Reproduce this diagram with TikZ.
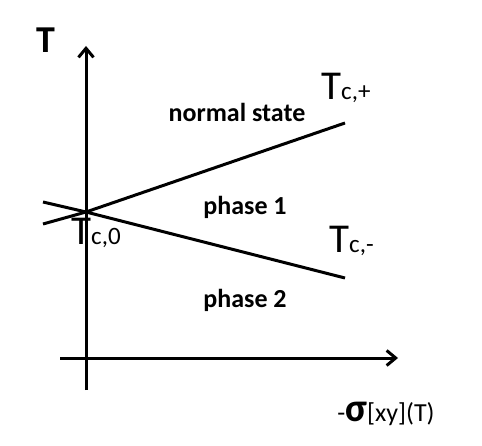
\documentclass[tikz,border=0pt]{standalone}
\usepackage{fontspec}
\setmainfont{Carlito}
\usetikzlibrary{arrows.meta}

\begin{document}
\begin{tikzpicture}[x=1pt,y=-1pt,
    axis line/.style={line width=3pt, -{Straight Barb[length=9pt,width=15pt,line width=3pt]}},
    phase line/.style={line width=3pt},
    region label/.style={font=\fontsize{26}{30}\selectfont\bfseries, inner sep=0pt},
    crit label/.style={anchor=base west, inner sep=0pt},
    ]
  \useasboundingbox (0,0) rectangle (482,446);
  \def\Tsub#1{{\fontsize{41}{44}\selectfont T}{\fontsize{25}{27}\selectfont #1}}

  % axes
  \coordinate (ybot) at (86,390);
  \coordinate (ytop) at (86,46);
  \coordinate (xleft) at (60,358);
  \coordinate (xright) at (398,358);
  \draw[axis line] (ybot) -- (ytop);
  \draw[axis line] (xleft) -- (xright);

  \node[font=\fontsize{38}{40}\selectfont\bfseries, inner sep=0pt] (tlabel) at (46,40) {T};
  \node[inner sep=0pt, anchor=base] (xlabel) at (386,421)
    {\fontsize{26}{28}\selectfont -{\fontsize{40}{42}\selectfont\bfseries σ}[xy](T)};

  % critical lines
  \coordinate (c0) at (86,212);
  \coordinate (upleft) at (43,224);
  \coordinate (upright) at (345,123);
  \coordinate (lowleft) at (43,202);
  \coordinate (lowright) at (345,278);
  \draw[phase line] (upleft) -- (c0) -- (upright);
  \draw[phase line] (lowleft) -- (c0) -- (lowright);

  \node[crit label] (tcplus) at (321,100) {\Tsub{c,+}};
  \node[crit label] (tczero) at (71,245) {\Tsub{c,0}};
  \node[crit label] (tcminus) at (329,253) {\Tsub{c,-}};

  % regions
  \node[region label] (normal) at (237,112) {normal state};
  \node[region label] (phase1) at (245,207) {phase 1};
  \node[region label] (phase2) at (245,300) {phase 2};
\end{tikzpicture}
\end{document}
